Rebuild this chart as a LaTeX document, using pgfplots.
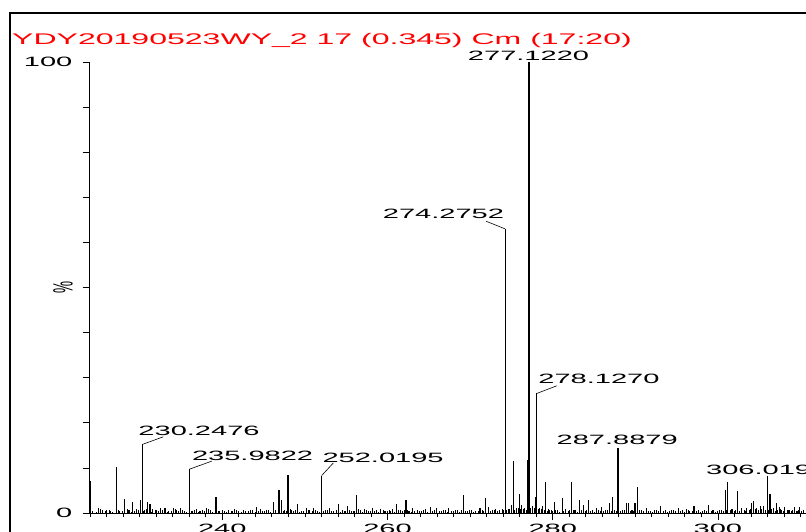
\documentclass[border=0pt]{standalone}
\usepackage{fontspec}
\setmainfont{Liberation Sans}
\usepackage{graphicx}
\usepackage{pgfplots}
\usepackage{pgfplotstable}
\pgfplotsset{compat=1.18}
\newcommand\sx[1]{\scalebox{2.15}[1]{#1}}
\newcommand\lbl{\fontsize{13.5}{13.5}\selectfont}
\pgfplotstableread{
x y
224.05 7.2
225.0 1.2
225.5 0.6
226.0 0.7
226.5 0.4
227.22 10.1
227.6 0.5
228.2 3.1
228.7 0.6
229.15 2.4
229.6 0.8
230.1 2.8
230.31 15.2
230.6 0.7
230.97 2.5
231.25 2.0
231.6 0.8
232.0 0.6
232.5 1.0
233.06 1.2
233.5 0.5
234.07 1.2
234.5 0.6
234.9 1.0
235.4 0.5
236.0 9.7
236.4 0.5
236.9 0.9
237.3 0.5
238.1 1.1
238.6 0.6
239.24 3.6
239.7 0.5
240.3 0.4
240.8 0.7
241.5 0.8
242.0 0.4
242.6 0.7
243.2 0.5
243.7 0.6
244.16 1.4
244.6 0.8
245.1 0.5
245.6 0.6
246.17 2.5
246.86 5.1
247.19 2.9
247.5 0.7
247.95 8.4
248.4 0.6
249.1 2.1
249.6 0.5
250.2 1.2
250.6 0.7
251.0 1.2
251.5 0.5
252.03 8.3
252.5 0.6
253.0 1.2
253.5 0.5
254.04 2.1
254.5 0.7
255.18 1.5
255.6 0.5
256.27 4.0
256.7 0.6
257.2 0.8
257.7 0.5
258.2 1.0
258.7 0.6
259.2 0.8
259.7 0.4
260.2 0.6
260.6 0.8
261.1 2.1
261.6 0.6
262.24 2.9
262.6 0.5
263.05 1.1
263.6 0.6
264.1 0.4
264.6 0.8
265.15 1.4
265.96 1.1
266.5 0.5
267.0 0.7
267.4 1.1
268.0 0.5
268.5 0.6
269.2 4.0
269.7 0.5
270.2 0.7
270.7 0.4
271.2 1.1
271.9 3.4
272.2 1.4
272.7 0.6
273.1 0.8
273.6 0.7
274.23 63.0
274.6 0.8
275.0 1.8
275.23 11.6
275.6 1.0
275.96 4.2
276.24 1.8
276.6 1.0
276.98 11.8
277.13 100
277.5 1.5
277.75 1.2
277.95 3.5
278.06 26.5
278.4 1.0
278.8 1.6
279.15 6.8
279.5 0.8
279.8 0.6
280.16 2.4
280.6 0.7
281.16 3.3
281.6 0.8
282.0 0.6
282.25 6.9
282.7 0.6
283.2 2.9
283.7 1.8
284.3 2.9
284.8 0.7
285.3 1.1
285.9 1.4
286.4 0.6
286.9 2.2
287.2 3.5
287.9 14.5
288.4 0.6
288.96 2.3
289.2 2.3
289.6 0.6
289.96 2.3
290.24 5.7
290.7 0.6
291.3 1.1
291.8 0.5
292.3 0.7
293.1 1.5
293.6 0.6
294.1 0.4
294.6 0.7
295.2 1.2
295.7 0.6
296.2 0.8
296.6 0.5
297.1 1.5
297.6 0.6
298.1 0.5
298.9 1.8
299.4 0.6
299.9 0.4
300.4 0.7
300.9 5.1
301.2 6.9
301.7 0.8
302.35 4.9
302.9 1.1
303.5 1.0
304.1 2.2
304.3 2.7
304.7 1.0
305.1 1.5
305.5 1.5
306.03 8.1
306.3 4.2
306.7 1.0
307.1 2.2
307.4 1.4
307.7 0.7
308.1 1.4
308.6 0.6
309.25 1.4
309.6 0.5
309.9 1.4
310.4 0.6
}\spectrum
\pgfplotstableread{
x y
224.3 0.5
224.8 0.3
225.25 0.8
225.8 0.4
226.3 0.6
226.75 0.2
227.4 0.7
227.9 0.4
228.45 0.9
228.95 0.3
229.4 0.5
229.85 0.6
230.45 0.4
230.8 0.9
231.45 0.3
231.85 0.6
232.3 0.4
232.8 0.7
233.3 0.3
233.8 0.5
234.3 0.8
234.7 0.4
235.2 0.6
235.7 0.3
236.2 0.5
236.65 0.7
237.1 0.3
237.55 0.6
237.85 0.4
238.35 0.8
238.85 0.3
239.5 0.5
239.95 0.6
240.55 0.3
241.05 0.5
241.25 0.4
241.75 0.6
242.3 0.3
242.85 0.5
243.45 0.7
243.95 0.3
244.4 0.5
244.85 0.4
245.35 0.7
245.85 0.3
246.4 0.6
247.35 0.5
247.75 0.4
248.2 0.9
248.65 0.4
248.9 0.6
249.35 0.3
249.85 0.5
250.4 0.6
250.85 0.4
251.25 0.7
251.75 0.3
252.25 0.5
252.75 0.7
253.25 0.4
253.75 0.6
254.25 0.3
254.75 0.5
254.95 0.4
255.4 0.7
255.85 0.4
256.05 0.5
256.45 0.8
256.95 0.3
257.45 0.6
257.95 0.4
258.45 0.5
258.95 0.3
259.45 0.7
259.95 0.4
260.4 0.5
260.85 0.3
261.35 0.7
261.85 0.4
262.05 0.6
262.4 0.7
262.85 0.3
263.3 0.5
263.85 0.4
264.35 0.6
264.85 0.3
265.4 0.5
265.65 0.7
266.25 0.4
266.75 0.6
267.2 0.3
267.7 0.5
268.25 0.7
268.75 0.3
269.0 0.6
269.45 0.4
269.95 0.6
270.45 0.3
270.95 0.5
271.45 0.7
271.65 0.5
272.45 0.4
272.9 0.6
273.35 0.5
273.85 0.9
274.05 0.6
274.4 0.7
274.8 0.9
275.4 0.7
275.8 1.1
276.05 0.8
276.4 0.9
276.8 0.7
277.3 1.0
278.25 0.8
278.6 0.9
279.0 0.7
279.35 0.5
279.65 0.7
280.0 0.4
280.35 0.6
280.85 0.3
281.35 0.5
281.85 0.4
282.45 0.6
282.95 0.3
283.45 0.7
283.95 0.4
284.1 0.6
284.55 0.5
285.05 0.3
285.55 0.6
285.75 0.4
286.15 0.5
286.65 0.7
287.05 0.4
287.5 0.6
287.7 0.5
288.2 0.4
288.7 0.6
289.4 0.5
289.8 0.4
290.45 0.6
290.95 0.4
291.55 0.5
292.05 0.3
292.55 0.6
292.85 0.4
293.35 0.5
293.85 0.3
294.35 0.6
294.85 0.4
295.45 0.5
295.95 0.3
296.4 0.7
296.85 0.4
297.35 0.5
297.85 0.3
298.35 0.6
298.65 0.4
299.15 0.5
299.65 0.3
300.15 0.6
300.65 0.5
301.0 0.7
301.45 0.6
301.95 0.4
302.15 0.6
302.65 0.5
303.15 0.7
303.3 0.4
303.75 0.6
303.95 0.9
304.5 0.8
304.9 0.6
305.3 0.9
305.75 0.6
306.15 0.7
306.5 0.8
306.9 0.5
307.25 0.6
307.55 0.9
307.9 0.4
308.35 0.6
308.85 0.4
309.05 0.6
309.45 0.4
309.75 0.6
310.15 0.4
310.65 0.5
}\noise
\begin{document}
\begin{tikzpicture}
\useasboundingbox (0pt,0pt) rectangle (806pt,531pt);
\clip (0pt,0pt) rectangle (806pt,531pt);
\fill[white] (0pt,0pt) rectangle (806pt,531pt);
\draw[line width=2pt] (10pt,-10pt) -- (10pt,518pt) -- (830pt,518pt);
\node[anchor=base west, inner sep=0pt, text=red, font=\fontsize{15.4}{15.4}\selectfont] at (12pt,486pt) {\scalebox{2.08}[1]{YDY20190523WY\_2 17 (0.345) Cm (17:20)}};
\node[inner sep=0pt, font=\lbl] at (63pt,244pt) {\scalebox{2.07}[1]{\rotatebox{90}{\%}}};
\begin{axis}[
  at={(89.5pt,18pt)}, anchor=south west,
  x=8.26pt, y=4.51pt,
  xmin=223.92, xmax=312, ymin=0, ymax=100,
  axis lines=left,
  axis line style={-, line width=1pt},
  clip=false,
  xtick={240,260,280,300},
  xticklabels={\sx{240},\sx{260},\sx{280},\sx{300}},
  minor xtick={224,226,...,310},
  ytick={0,10,20,30,40,50,60,70,80,90,100},
  yticklabels={\sx{0},{},{},{},{},{},{},{},{},{},\sx{100}},
  tick align=outside,
  major tick length=7pt,
  minor tick length=4pt,
  tick style={black, line width=0.8pt},
  xtick pos=bottom, ytick pos=left,
  xticklabel style={font=\lbl, inner sep=1pt, yshift=-3pt},
  yticklabel style={font=\lbl, inner sep=1pt, xshift=-9pt},
]
\addplot[ycomb, black, line width=0.8pt, no marks] table {\noise};
\addplot[ycomb, black, line width=1.1pt, no marks] table {\spectrum};
\node[anchor=base, inner sep=0pt, font=\lbl] at (axis cs:277.07,100.4) {\sx{277.1220}};
\node[anchor=base, inner sep=0pt, font=\lbl] at (axis cs:266.77,65.2) {\sx{274.2752}};
\node[anchor=base, inner sep=0pt, font=\lbl] at (axis cs:285.6,28.76) {\sx{278.1270}};
\node[anchor=base, inner sep=0pt, font=\lbl] at (axis cs:237.18,17.1) {\sx{230.2476}};
\node[anchor=base, inner sep=0pt, font=\lbl] at (axis cs:243.66,11.6) {\sx{235.9822}};
\node[anchor=base, inner sep=0pt, font=\lbl] at (axis cs:259.46,11.1) {\sx{252.0195}};
\node[anchor=base, inner sep=0pt, font=\lbl] at (axis cs:287.81,15.08) {\sx{287.8879}};
\node[anchor=base, inner sep=0pt, font=\lbl] at (axis cs:305.9,8.43) {\sx{306.0194}};
\draw[line width=0.6pt] (axis cs:274.23,63.0) -- (axis cs:271.93,64.7);
\draw[line width=0.6pt] (axis cs:278.06,26.5) -- (axis cs:280.48,28.2);
\draw[line width=0.6pt] (axis cs:230.31,15.2) -- (axis cs:232.86,16.9);
\draw[line width=0.6pt] (axis cs:236.0,9.7) -- (axis cs:238.72,11.5);
\draw[line width=0.6pt] (axis cs:252.03,8.3) -- (axis cs:253.44,11.1);
\end{axis}
\end{tikzpicture}
\end{document}
